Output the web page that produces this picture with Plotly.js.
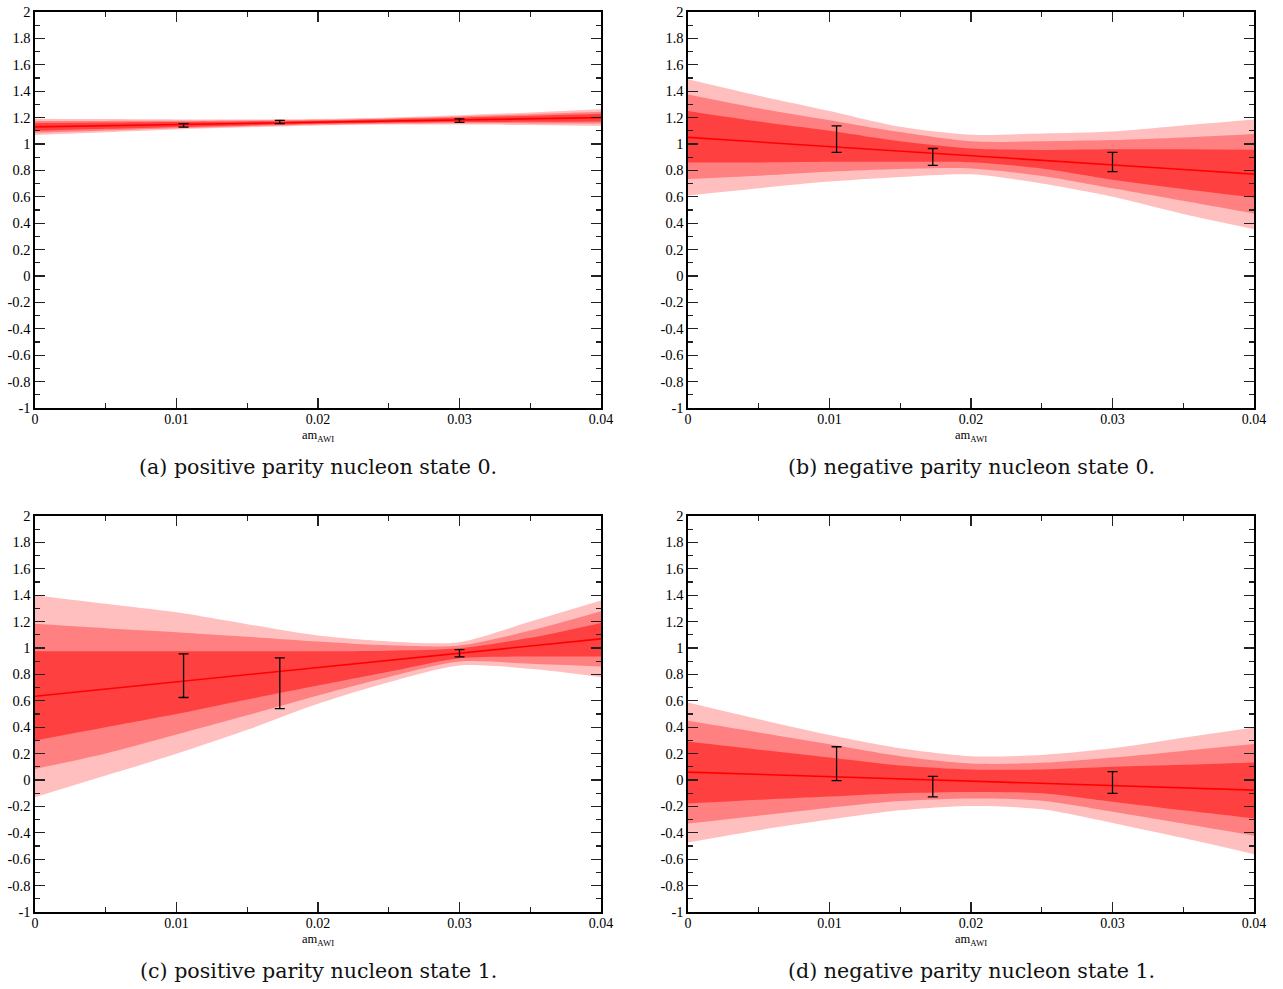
<!DOCTYPE html>
<html>
<head>
<meta charset="utf-8">
<script src="https://cdn.plot.ly/plotly-3.0.1.min.js"></script>
<style>html,body{margin:0;padding:0;background:#fff;}#chart{width:1283px;height:989px;}</style>
</head>
<body>
<div id="chart"></div>
<script>
// x grid at which the fit bands were read
const xGrid = [0, 0.005, 0.01, 0.015, 0.02, 0.025, 0.03, 0.035, 0.04];
// data point positions (am_AWI)
const ptsX = [0.0105, 0.0173, 0.0300];

// (a) positive parity nucleon state 0
const aLine    = [1.130, 1.139, 1.148, 1.156, 1.165, 1.174, 1.183, 1.191, 1.200];
const aLightHi = [1.192, 1.189, 1.186, 1.186, 1.190, 1.201, 1.218, 1.239, 1.263];
const aLightLo = [1.068, 1.089, 1.110, 1.126, 1.140, 1.147, 1.148, 1.143, 1.137];
const aMedHi   = [1.175, 1.175, 1.176, 1.178, 1.183, 1.194, 1.209, 1.226, 1.245];
const aMedLo   = [1.085, 1.103, 1.120, 1.134, 1.147, 1.154, 1.157, 1.156, 1.155];
const aDarkHi  = [1.160, 1.163, 1.167, 1.171, 1.177, 1.187, 1.200, 1.214, 1.230];
const aDarkLo  = [1.100, 1.115, 1.129, 1.141, 1.153, 1.161, 1.166, 1.168, 1.170];
const aPtsY    = [1.141, 1.167, 1.177];
const aPtsErr  = [0.013, 0.012, 0.013];

// (b) negative parity nucleon state 0
const bLine    = [1.050, 1.016, 0.981, 0.946, 0.912, 0.877, 0.842, 0.807, 0.772];
const bLightHi = [1.490, 1.365, 1.250, 1.130, 1.070, 1.080, 1.095, 1.140, 1.185];
const bLightLo = [0.610, 0.665, 0.715, 0.750, 0.770, 0.700, 0.600, 0.470, 0.355];
const bMedHi   = [1.375, 1.270, 1.180, 1.090, 1.020, 1.020, 1.030, 1.050, 1.076];
const bMedLo   = [0.735, 0.760, 0.790, 0.810, 0.815, 0.758, 0.665, 0.570, 0.473];
const bDarkHi  = [1.250, 1.170, 1.100, 1.020, 0.965, 0.955, 0.960, 0.960, 0.957];
const bDarkLo  = [0.860, 0.860, 0.865, 0.866, 0.862, 0.815, 0.730, 0.660, 0.595];
const bPtsY    = [1.037, 0.902, 0.863];
const bPtsErr  = [0.100, 0.064, 0.073];

// (c) positive parity nucleon state 1
const cLine    = [0.635, 0.690, 0.743, 0.798, 0.852, 0.906, 0.960, 1.015, 1.069];
const cLightHi = [1.400, 1.335, 1.270, 1.180, 1.094, 1.050, 1.044, 1.200, 1.360];
const cLightLo = [-0.130, 0.034, 0.198, 0.380, 0.577, 0.740, 0.867, 0.842, 0.779];
const cMedHi   = [1.183, 1.150, 1.120, 1.085, 1.049, 1.020, 1.019, 1.132, 1.279];
const cMedLo   = [0.084, 0.200, 0.344, 0.490, 0.640, 0.780, 0.897, 0.880, 0.860];
const cDarkHi  = [0.976, 0.976, 0.976, 0.976, 0.976, 0.980, 0.998, 1.077, 1.190];
const cDarkLo  = [0.299, 0.400, 0.500, 0.610, 0.716, 0.820, 0.923, 0.935, 0.935];
const cPtsY    = [0.790, 0.733, 0.960];
const cPtsErr  = [0.165, 0.192, 0.027];

// (d) negative parity nucleon state 1
const dLine    = [0.060, 0.043, 0.026, 0.009, -0.009, -0.026, -0.043, -0.060, -0.077];
const dLightHi = [0.587, 0.460, 0.340, 0.240, 0.180, 0.190, 0.240, 0.320, 0.398];
const dLightLo = [-0.473, -0.380, -0.300, -0.230, -0.197, -0.222, -0.325, -0.440, -0.562];
const dMedHi   = [0.448, 0.360, 0.270, 0.180, 0.125, 0.130, 0.170, 0.220, 0.272];
const dMedLo   = [-0.329, -0.270, -0.210, -0.160, -0.140, -0.157, -0.240, -0.330, -0.423];
const dDarkHi  = [0.292, 0.230, 0.170, 0.110, 0.080, 0.080, 0.100, 0.115, 0.133];
const dDarkLo  = [-0.178, -0.150, -0.125, -0.100, -0.090, -0.100, -0.165, -0.230, -0.291];
const dPtsY    = [0.124, -0.050, -0.019];
const dPtsErr  = [0.128, 0.078, 0.082];

// tick labels
const xTickVals = [0, 0.01, 0.02, 0.03, 0.04];
const xTickText = ["0", "0.01", "0.02", "0.03", "0.04"];
const yTickVals = [-1, -0.8, -0.6, -0.4, -0.2, 0, 0.2, 0.4, 0.6, 0.8, 1, 1.2, 1.4, 1.6, 1.8, 2];
const yTickText = ["-1", "-0.8", "-0.6", "-0.4", "-0.2", "0", "0.2", "0.4", "0.6", "0.8", "1", "1.2", "1.4", "1.6", "1.8", "2"];

const captions = ["(a) positive parity nucleon state 0.", "(b) negative parity nucleon state 0.",
                  "(c) positive parity nucleon state 1.", "(d) negative parity nucleon state 1."];
const xTitle = "am<sub>AWI</sub>";

const panels = [
  {line: aLine, lh: aLightHi, ll: aLightLo, mh: aMedHi, ml: aMedLo, dh: aDarkHi, dl: aDarkLo, py: aPtsY, pe: aPtsErr},
  {line: bLine, lh: bLightHi, ll: bLightLo, mh: bMedHi, ml: bMedLo, dh: bDarkHi, dl: bDarkLo, py: bPtsY, pe: bPtsErr},
  {line: cLine, lh: cLightHi, ll: cLightLo, mh: cMedHi, ml: cMedLo, dh: cDarkHi, dl: cDarkLo, py: cPtsY, pe: cPtsErr},
  {line: dLine, lh: dLightHi, ll: dLightLo, mh: dMedHi, ml: dMedLo, dh: dDarkHi, dl: dDarkLo, py: dPtsY, pe: dPtsErr}
];

const W = 1283, H = 989;
const pxX = [[35, 601], [688, 1254], [35, 601], [688, 1254]];
const pxY = [[12, 408], [12, 408], [516, 912], [516, 912]];
const SERIF = '"Liberation Serif", "Times New Roman", Times, serif';
const CAPFONT = '"DejaVu Serif", serif';

const COL_LIGHT = '#ffbfbf', COL_MED = '#ff8080', COL_DARK = '#ff4040';
const traces = [];
const layout = {
  width: W, height: H, margin: {l: 0, r: 0, t: 0, b: 0},
  paper_bgcolor: '#fff', plot_bgcolor: '#fff', showlegend: false,
  font: {family: SERIF, color: '#000', size: 14},
  annotations: []
};

panels.forEach((p, i) => {
  const n = i + 1;
  const xa = n === 1 ? 'x' : 'x' + n;
  const ya = n === 1 ? 'y' : 'y' + n;
  const bands = [[p.lh, p.ll, COL_LIGHT], [p.mh, p.ml, COL_MED], [p.dh, p.dl, COL_DARK]];
  bands.forEach(b => {
    traces.push({x: xGrid, y: b[0], xaxis: xa, yaxis: ya, mode: 'lines', line: {width: 0, shape: 'spline', smoothing: 0.8}, hoverinfo: 'skip'});
    traces.push({x: xGrid, y: b[1], xaxis: xa, yaxis: ya, mode: 'lines', line: {width: 0, shape: 'spline', smoothing: 0.8}, fill: 'tonexty', fillcolor: b[2], hoverinfo: 'skip'});
  });
  traces.push({x: xGrid, y: p.line, xaxis: xa, yaxis: ya, mode: 'lines', line: {color: '#ff0000', width: 1.6}});
  traces.push({x: ptsX, y: p.py, xaxis: xa, yaxis: ya, mode: 'markers', marker: {size: 1, color: 'rgba(0,0,0,0)'},
    error_y: {type: 'data', array: p.pe, visible: true, color: '#000', thickness: 1.3, width: 5}});

  const xk = n === 1 ? 'xaxis' : 'xaxis' + n;
  const yk = n === 1 ? 'yaxis' : 'yaxis' + n;
  layout[xk] = {
    domain: [pxX[i][0] / W, pxX[i][1] / W], anchor: ya, range: [0, 0.04],
    showline: true, linecolor: '#000', linewidth: 1.6, mirror: 'allticks',
    ticks: 'inside', ticklen: 10, tickwidth: 1.2, tickcolor: '#222',
    tickmode: 'array', tickvals: xTickVals, ticktext: xTickText, ticklabelstandoff: -2,
    tickfont: {family: SERIF, size: 14, color: '#000'},
    minor: {ticks: 'inside', dtick: 0.005, tick0: 0, ticklen: 5, tickwidth: 1.2, tickcolor: '#222', showgrid: false},
    showgrid: false, zeroline: false, fixedrange: true
  };
  layout[yk] = {
    domain: [1 - pxY[i][1] / H, 1 - pxY[i][0] / H], anchor: xa, range: [-1, 2],
    showline: true, linecolor: '#000', linewidth: 1.6, mirror: 'allticks',
    ticks: 'inside', ticklen: 10, tickwidth: 1.2, tickcolor: '#222',
    tickmode: 'array', tickvals: yTickVals, ticktext: yTickText,
    tickfont: {family: SERIF, size: 14.5, color: '#000'},
    minor: {ticks: 'inside', dtick: 0.1, tick0: 0, ticklen: 5, tickwidth: 1.2, tickcolor: '#222', showgrid: false},
    showgrid: false, zeroline: false, fixedrange: true
  };
  const cx = (pxX[i][0] + pxX[i][1]) / 2 / W;
  layout.annotations.push({xref: 'paper', yref: 'paper', x: cx, y: 1 - (pxY[i][1] + 28) / H,
    xanchor: 'center', yanchor: 'middle', showarrow: false, text: xTitle,
    font: {family: SERIF, size: 12.5, color: '#000'}});
  layout.annotations.push({xref: 'paper', yref: 'paper', x: cx, y: 1 - (pxY[i][1] + 59) / H,
    xanchor: 'center', yanchor: 'middle', showarrow: false, text: captions[i],
    font: {family: CAPFONT, size: 20.6, color: '#111'}});
});

Plotly.newPlot('chart', traces, layout, {staticPlot: true, displayModeBar: false});
</script>
</body>
</html>
